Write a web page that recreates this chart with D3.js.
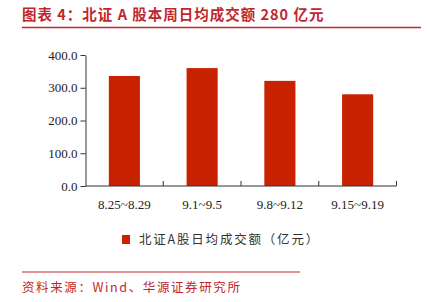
<!DOCTYPE html>
<html>
<head>
<meta charset="utf-8">
<script src="https://cdn.jsdelivr.net/npm/d3@7"></script>
<style>
body { margin: 0; background: #fff; }
</style>
</head>
<body>
<svg id="chart" width="427" height="302"></svg>
<script>
// data
const weeks = ["8.25~8.29", "9.1~9.5", "9.8~9.12", "9.15~9.19"];
const turnover = [336, 360, 321, 280];
const yTicks = [0, 100, 200, 300, 400];
const seriesName = "北证A股日均成交额（亿元）";
const titleText = "图表 4：北证 A 股本周日均成交额 280 亿元";
const sourceText = "资料来源：Wind、华源证券研究所";

let svg = d3.select("#chart");
let red = "#c0272d";
let barColor = "#c82200";

// title + rule
svg.append("text")
    .attr("x", 22).attr("y", 20)
    .attr("fill", red)
    .style("font-family", "'Noto Sans CJK SC', sans-serif")
    .style("font-weight", "bold")
    .style("font-size", "14.5px")
    .style("letter-spacing", "1px")
    .text(titleText);
svg.append("line")
    .attr("x1", 22).attr("x2", 421).attr("y1", 27.5).attr("y2", 27.5)
    .attr("stroke", red).attr("stroke-width", 1.5);

let plotLeft = 85.5, plotRight = 396.5, plotTop = 55, plotBottom = 186;

let x = d3.scaleBand()
    .domain(weeks)
    .range([plotLeft, plotRight])
    .paddingInner(0.6)
    .paddingOuter(0.3);

let y = d3.scaleLinear()
    .domain([0, 400])
    .range([plotBottom, plotTop]);

// bars
svg.selectAll(".bar")
    .data(turnover)
    .enter()
    .append("rect")
    .attr("class", "bar")
    .attr("x", (d, i) => x(weeks[i]))
    .attr("width", x.bandwidth())
    .attr("y", d => y(d))
    .attr("height", d => y(0) - y(d))
    .attr("fill", barColor);

// y axis
let yAxis = d3.axisLeft(y).tickValues(yTicks).tickFormat(d3.format(".1f")).tickSize(5).tickSizeOuter(0);
let gy = svg.append("g")
    .attr("transform", "translate(" + plotLeft + ",0)")
    .call(yAxis);
gy.selectAll("text")
    .attr("x", -8)
    .style("font-family", "'Liberation Serif', serif")
    .style("font-size", "13px")
    .attr("fill", "#222");
gy.select(".domain").attr("stroke", "#333");
gy.selectAll(".tick line").attr("stroke", "#333");

// x axis: ticks at band boundaries
let gx = svg.append("g")
    .attr("transform", "translate(0," + plotBottom + ")");
gx.append("line")
    .attr("x1", plotLeft).attr("x2", plotRight)
    .attr("stroke", "#333");
let bounds = weeks.map((w, i) => x.step() * (i + 1) + plotLeft);
gx.selectAll(".xt")
    .data(bounds)
    .enter()
    .append("line")
    .attr("class", "xt")
    .attr("x1", d => d).attr("x2", d => d)
    .attr("y1", 0).attr("y2", -5)
    .attr("stroke", "#333");
gx.selectAll(".xl")
    .data(weeks)
    .enter()
    .append("text")
    .attr("class", "xl")
    .attr("x", d => x(d) + x.bandwidth() / 2)
    .attr("y", 23)
    .attr("text-anchor", "middle")
    .style("font-family", "'Liberation Serif', serif")
    .style("font-size", "13px")
    .attr("fill", "#222")
    .text(d => d);

// legend
svg.append("rect")
    .attr("x", 122).attr("y", 235)
    .attr("width", 8).attr("height", 9)
    .attr("fill", barColor);
svg.append("text")
    .attr("x", 139).attr("y", 244)
    .style("font-family", "'Noto Sans CJK SC', sans-serif")
    .style("font-size", "12.5px")
    .style("letter-spacing", "1.8px")
    .attr("fill", "#333")
    .text(seriesName);

// source + rule
svg.append("line")
    .attr("x1", 22).attr("x2", 300).attr("y1", 272).attr("y2", 272)
    .attr("stroke", red).attr("stroke-width", 1.2);
svg.append("text")
    .attr("x", 22).attr("y", 292)
    .attr("fill", red)
    .style("font-family", "'Noto Sans CJK SC', sans-serif")
    .style("font-size", "12.5px")
    .style("letter-spacing", "1.6px")
    .text(sourceText);
</script>
</body>
</html>
